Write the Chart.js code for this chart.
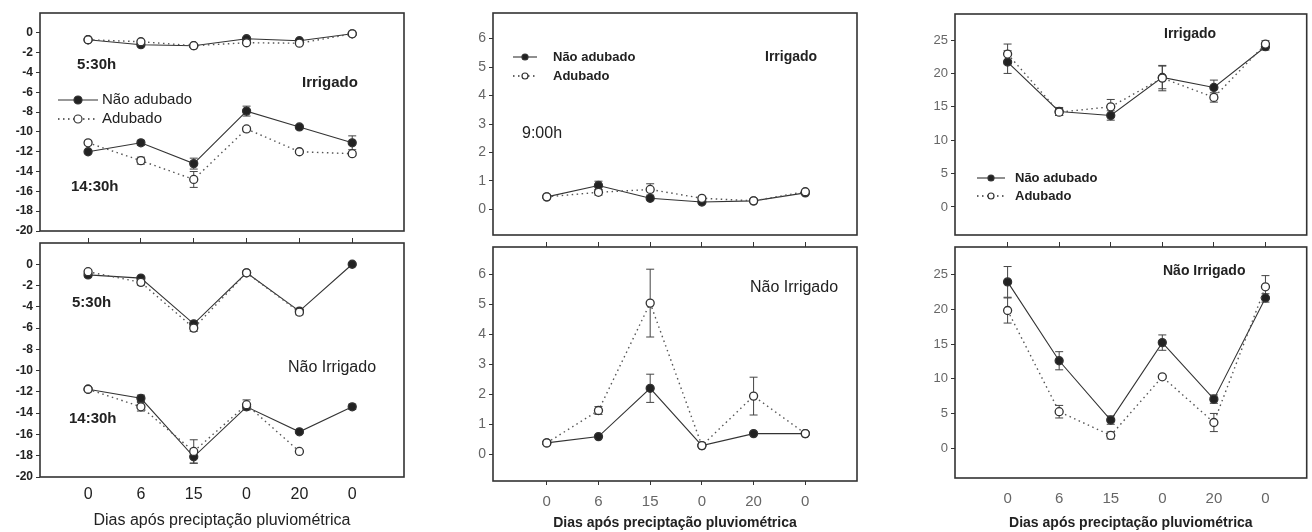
<!DOCTYPE html>
<html>
<head>
<meta charset="utf-8">
<script src="https://cdn.jsdelivr.net/npm/chart.js@4/dist/chart.umd.min.js"></script>
<style>
  body { margin: 0; background: #fff; width: 1312px; height: 532px; position: relative; overflow: hidden; }
  canvas { position: absolute; }
</style>
</head>
<body>
<canvas id="c1a"></canvas><canvas id="c1b"></canvas>
<canvas id="c2a"></canvas><canvas id="c2b"></canvas>
<canvas id="c3a"></canvas><canvas id="c3b"></canvas>
<script>
// dias apos precipitacao (categorias do eixo x)
const dias = ['0', '6', '15', '0', '20', '0'];

// coluna 1 - Irrigado
const c1IrrNA530 = [-0.7, -1.2, -1.3, -0.6, -0.8, -0.1];
const c1IrrAd530 = [-0.7, -0.9, -1.3, -1.0, -1.05, -0.1];
const c1IrrNA1430 = [-12.0, -11.1, -13.2, -7.9, -9.5, -11.1];
const c1IrrAd1430 = [-11.1, -12.9, -14.8, -9.7, -12.0, -12.2];
const c1IrrNA530Err = [0, 0.1, 0.1, 0.15, 0.1, 0];
const c1IrrAd530Err = [0, 0.1, 0.1, 0.1, 0.1, 0.1];
const c1IrrNA1430Err = [0.1, 0.25, 0.55, 0.5, 0.2, 0.7];
const c1IrrAd1430Err = [0.2, 0.35, 0.8, 0.2, 0.15, 0.2];

// coluna 1 - Nao irrigado
const c1NIrNA530 = [-1.0, -1.3, -5.6, -0.8, -4.4, 0.0];
const c1NIrAd530 = [-0.7, -1.7, -6.0, -0.8, -4.5, null];
const c1NIrNA1430 = [-11.75, -12.6, -18.1, -13.4, -15.75, -13.4];
const c1NIrAd1430 = [-11.75, -13.4, -17.6, -13.2, -17.6, null];
const c1NIrNA530Err = [0.2, 0.15, 0.25, 0.1, 0.2, 0.1];
const c1NIrAd530Err = [0.2, 0.25, 0.3, 0.1, 0.25, 0];
const c1NIrNA1430Err = [0.15, 0.3, 0.6, 0.3, 0.15, 0.25];
const c1NIrAd1430Err = [0.15, 0.4, 1.1, 0.45, 0.1, 0];

// coluna 2 - 9:00h
const c2IrrNA = [0.44, 0.84, 0.39, 0.26, 0.3, 0.58];
const c2IrrAd = [0.44, 0.6, 0.7, 0.39, 0.3, 0.62];
const c2IrrNAErr = [0.03, 0.15, 0.05, 0.03, 0.03, 0.05];
const c2IrrAdErr = [0.03, 0.1, 0.2, 0.03, 0.03, 0.05];
const c2NIrNA = [0.37, 0.58, 2.19, 0.28, 0.68, 0.68];
const c2NIrAd = [0.37, 1.45, 5.03, 0.28, 1.93, 0.68];
const c2NIrNAErr = [0.05, 0.03, 0.47, 0.03, 0.03, 0.03];
const c2NIrAdErr = [0.05, 0.13, 1.13, 0.03, 0.63, 0.03];

// coluna 3
const c3IrrNA = [21.7, 14.3, 13.7, 19.4, 17.9, 24.0];
const c3IrrAd = [22.9, 14.2, 15.0, 19.3, 16.4, 24.4];
const c3IrrNAErr = [1.7, 0.6, 0.7, 1.7, 1.1, 0.5];
const c3IrrAdErr = [1.5, 0.5, 1.1, 1.9, 0.7, 0.5];
const c3NIrNA = [23.9, 12.6, 4.1, 15.2, 7.1, 21.6];
const c3NIrAd = [19.8, 5.3, 1.9, 10.3, 3.75, 23.2];
const c3NIrNAErr = [2.2, 1.3, 0.6, 1.1, 0.6, 0.6];
const c3NIrAdErr = [1.8, 0.9, 0.5, 0.2, 1.3, 1.6];

const yTicks1 = [0, -2, -4, -6, -8, -10, -12, -14, -16, -18, -20];
const yTicks2 = [0, 1, 2, 3, 4, 5, 6];
const yTicks3 = [0, 5, 10, 15, 20, 25];

const titulo = 'Dias após preciptação pluviométrica';
const FONT = "'Liberation Sans', Arial, sans-serif";

function serie(vals, err, adubado) {
  return {
    data: vals.map((v, i) => ({ x: i, y: v })),
    err: err,
    order: adubado ? 0 : 1,
    borderColor: adubado ? '#555' : '#333',
    borderWidth: adubado ? 1.4 : 1.1,
    borderDash: adubado ? [1.5, 3.5] : [],
    pointRadius: 4,
    pointBorderWidth: 1.3,
    pointBackgroundColor: adubado ? '#fff' : '#222',
    pointBorderColor: '#333',
    tension: 0
  };
}

const boxPlugin = {
  id: 'box',
  beforeDatasetsDraw(chart) {
    const a = chart.chartArea, c = chart.ctx;
    c.save();
    c.strokeStyle = '#333';
    c.lineWidth = 1.6;
    c.strokeRect(a.left, a.top, a.right - a.left, a.bottom - a.top);
    const xs = chart.scales.x, ys = chart.scales.y;
    c.strokeStyle = '#444';
    c.lineWidth = 1;
    chart.data.datasets.forEach(ds => {
      ds.data.forEach((p, i) => {
        const e = ds.err[i];
        if (!e || p.y === null) return;
        const px = xs.getPixelForValue(p.x);
        const y1 = ys.getPixelForValue(p.y + e), y2 = ys.getPixelForValue(p.y - e);
        c.beginPath();
        c.moveTo(px, y1); c.lineTo(px, y2);
        c.moveTo(px - 4, y1); c.lineTo(px + 4, y1);
        c.moveTo(px - 4, y2); c.lineTo(px + 4, y2);
        c.stroke();
      });
    });
    c.restore();
  }
};

function annoPlugin(p) {
  return {
    id: 'anno',
    afterDatasetsDraw(chart) {
      const a = chart.chartArea, c = chart.ctx;
      c.save();
      c.textBaseline = 'middle';
      c.textAlign = 'left';
      (p.texts || []).forEach(t => {
        c.font = t.font;
        c.fillStyle = '#222';
        c.fillText(t.s, a.left + t.x, a.top + t.y);
      });
      const L = p.legend;
      if (L) {
        ['Não adubado', 'Adubado'].forEach((s, k) => {
          const y = a.top + L.y + k * L.dy;
          c.beginPath();
          c.strokeStyle = '#333';
          c.lineWidth = k ? 1.4 : 1.1;
          c.setLineDash(k ? [1.5, 3.5] : []);
          c.moveTo(a.left + L.x1, y); c.lineTo(a.left + L.x2, y);
          c.stroke();
          c.setLineDash([]);
          c.beginPath();
          c.arc(a.left + (L.x1 + L.x2) / 2, y, L.r, 0, Math.PI * 2);
          c.fillStyle = k ? '#fff' : '#222';
          c.fill();
          c.lineWidth = 1.2;
          c.stroke();
          c.font = L.font;
          c.fillStyle = '#222';
          c.fillText(s, a.left + L.tx, y);
        });
      }
      c.restore();
    }
  };
}

function painel(p) {
  const cv = document.getElementById(p.id);
  const [al, at, ar, ab] = p.area;
  const cl = al - p.yw;
  const ct = p.bottom ? at - 14 : 0;
  const cr = Math.min(1312, ar + 6);
  const cb = p.bottom ? 532 : ab + 12;
  cv.width = cr - cl; cv.height = cb - ct;
  cv.style.left = cl + 'px'; cv.style.top = ct + 'px';
  cv.style.width = (cr - cl) + 'px'; cv.style.height = (cb - ct) + 'px';

  const xTicks = s => { s.ticks = dias.map((d, i) => ({ value: i })); };
  const scales = {
    x: {
      type: 'linear', min: p.xr[0], max: p.xr[1], display: !!p.bottom,
      afterBuildTicks: xTicks,
      afterFit: s => { s.height = cb - ab; },
      ticks: { callback: (v, i) => dias[i], font: p.xFont, color: p.xColor, padding: p.xPad, maxRotation: 0 },
      grid: { drawOnChartArea: false, drawTicks: p.xTick > 0, tickLength: p.xTick, color: '#333' },
      border: { display: false },
      title: { display: true, text: titulo, font: p.tFont, color: '#222', padding: { top: 0, bottom: p.tPad } }
    },
    y: {
      min: p.yr[0], max: p.yr[1],
      afterBuildTicks: s => { s.ticks = p.yt.map(v => ({ value: v })); },
      afterFit: s => { s.width = p.yw; },
      ticks: { font: p.yFont, color: p.yColor, padding: 3 },
      grid: { drawOnChartArea: false, tickLength: 4, color: '#333' },
      border: { display: false }
    }
  };
  if (p.bottom) {
    scales.x2 = {
      type: 'linear', position: 'top', min: p.xr[0], max: p.xr[1],
      afterBuildTicks: xTicks,
      afterFit: s => { s.height = 6; },
      ticks: { display: false },
      grid: { drawOnChartArea: false, tickLength: 5, color: '#333' },
      border: { display: false }
    };
  }
  new Chart(cv, {
    type: 'line',
    data: { datasets: p.series },
    options: {
      responsive: false, animation: false,
      layout: { padding: { left: 0, right: cr - ar, top: p.bottom ? 8 : at - ct, bottom: p.bottom ? 0 : cb - ab } },
      plugins: { legend: { display: false }, tooltip: { enabled: false } },
      scales: scales
    },
    plugins: [boxPlugin, annoPlugin(p)]
  });
}

const col1 = {
  yw: 40, xr: [-0.91, 5.98], yr: [-20, 2], yt: yTicks1,
  yFont: { family: FONT, size: 12, weight: 'bold' }, yColor: '#222',
  xFont: { family: FONT, size: 16 }, xColor: '#222', xPad: 8, xTick: 0,
  tFont: { family: FONT, size: 16 }, tPad: 2
};
const col2 = {
  yw: 43, xr: [-1.04, 6.0], yr: [-0.9, 6.9], yt: yTicks2,
  yFont: { family: FONT, size: 14 }, yColor: '#666',
  xFont: { family: FONT, size: 15 }, xColor: '#666', xPad: 8, xTick: 4,
  tFont: { family: FONT, size: 14, weight: 'bold' }, tPad: 0
};
const col3 = {
  yw: 45, xr: [-1.02, 5.8], yr: [-4.2, 28.9], yt: yTicks3,
  yFont: { family: FONT, size: 13 }, yColor: '#666',
  xFont: { family: FONT, size: 15 }, xColor: '#666', xPad: 12, xTick: 0,
  tFont: { family: FONT, size: 14, weight: 'bold' }, tPad: 0
};

const B15 = 'bold 15px ' + FONT, R15 = '15px ' + FONT, R16 = '16px ' + FONT;

painel(Object.assign({}, col1, {
  id: 'c1a', area: [40, 13, 404, 243],
  series: [
    serie(c1IrrAd530, c1IrrAd530Err, true), serie(c1IrrNA530, c1IrrNA530Err, false),
    serie(c1IrrAd1430, c1IrrAd1430Err, true), serie(c1IrrNA1430, c1IrrNA1430Err, false)
  ],
  texts: [
    { s: '5:30h', x: 37, y: 52, font: B15 },
    { s: 'Irrigado', x: 262, y: 70, font: B15 },
    { s: '14:30h', x: 31, y: 174, font: B15 }
  ],
  legend: { x1: 18, x2: 58, y: 87, dy: 19, tx: 62, r: 4, font: R15 }
}));
painel(Object.assign({}, col1, {
  id: 'c1b', bottom: true, area: [40, 243, 404, 477],
  series: [
    serie(c1NIrAd530, c1NIrAd530Err, true), serie(c1NIrNA530, c1NIrNA530Err, false),
    serie(c1NIrAd1430, c1NIrAd1430Err, true), serie(c1NIrNA1430, c1NIrNA1430Err, false)
  ],
  texts: [
    { s: '5:30h', x: 32, y: 60, font: B15 },
    { s: 'Não Irrigado', x: 248, y: 125, font: R16 },
    { s: '14:30h', x: 29, y: 176, font: B15 }
  ]
}));
painel(Object.assign({}, col2, {
  id: 'c2a', area: [493, 13, 857, 247],
  series: [serie(c2IrrAd, c2IrrAdErr, true), serie(c2IrrNA, c2IrrNAErr, false)],
  texts: [
    { s: 'Irrigado', x: 272, y: 44, font: 'bold 14px ' + FONT },
    { s: '9:00h', x: 29, y: 121, font: R16 }
  ],
  legend: { x1: 20, x2: 44, y: 44, dy: 19, tx: 60, r: 3, font: 'bold 13px ' + FONT }
}));
painel(Object.assign({}, col2, {
  id: 'c2b', bottom: true, area: [493, 247, 857, 481],
  series: [serie(c2NIrAd, c2NIrAdErr, true), serie(c2NIrNA, c2NIrNAErr, false)],
  texts: [{ s: 'Não Irrigado', x: 257, y: 41, font: R16 }]
}));
painel(Object.assign({}, col3, {
  id: 'c3a', area: [955, 14, 1310, 247],
  series: [serie(c3IrrAd, c3IrrAdErr, true), serie(c3IrrNA, c3IrrNAErr, false)],
  texts: [{ s: 'Irrigado', x: 209, y: 20, font: 'bold 14px ' + FONT }],
  legend: { x1: 22, x2: 50, y: 164, dy: 18, tx: 60, r: 3, font: 'bold 13px ' + FONT }
}));
painel(Object.assign({}, col3, {
  id: 'c3b', bottom: true, area: [955, 247, 1310, 478],
  series: [serie(c3NIrAd, c3NIrAdErr, true), serie(c3NIrNA, c3NIrNAErr, false)],
  texts: [{ s: 'Não Irrigado', x: 208, y: 24, font: 'bold 14px ' + FONT }]
}));
</script>
</body>
</html>
